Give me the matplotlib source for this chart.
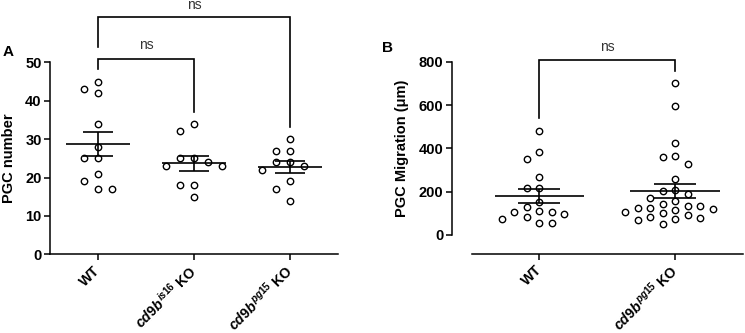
import numpy as np
import matplotlib.pyplot as plt

plt.rcParams.update({
    "font.family": "Liberation Sans",
    "font.weight": "bold",
    "font.size": 10.5,
    "axes.labelweight": "bold",
    "mathtext.fontset": "custom",
    "mathtext.it": "Liberation Sans:italic:bold",
    "mathtext.rm": "Liberation Sans:bold",
    "axes.linewidth": 1.1,
    "xtick.major.width": 1.1,
    "ytick.major.width": 1.1,
    "xtick.major.size": 4,
    "ytick.major.size": 4,
    "xtick.major.pad": 2,
    "ytick.major.pad": 2,
})

# ---------- data ----------
A_LABELS = ["WT", r"$\mathit{cd9b}^{\mathit{is16}}$ KO", r"$\mathit{cd9b}^{\mathit{pg15}}$ KO"]
A_WT = [45, 43, 42, 34, 28, 25, 25, 21, 19, 17, 17]
A_IS16 = [34, 32, 25, 25, 24, 23, 23, 18, 18, 15]
A_PG15 = [30, 27, 27, 24, 24, 23, 22, 19, 17, 14]

B_LABELS = ["WT", r"$\mathit{cd9b}^{\mathit{pg15}}$ KO"]
B_WT = [480, 384, 349, 266, 215, 215, 154, 128, 112, 108, 108, 96, 82, 74, 54, 54]
B_PG15 = [703, 594, 423, 365, 361, 326, 258, 208, 203, 189, 169, 157, 143, 134,
          134, 126, 123, 119, 115, 108, 103, 92, 82, 80, 72, 69, 51]


def swarm(ax, xc, vals, step_px, min_px):
    """greedy swarm: offsets in category units so circles don't collide"""
    tr = ax.transData
    px_per_x = tr.transform((1, 0))[0] - tr.transform((0, 0))[0]
    placed = []
    xs = []
    cands = [0]
    for i in range(1, 10):
        cands += [-i, i]
    for v in vals:
        yp = tr.transform((0, v))[1]
        for c in cands:
            xp = c * step_px
            if all(np.hypot(xp - a, yp - b) >= min_px for a, b in placed):
                placed.append((xp, yp))
                xs.append(xc + xp / px_per_x)
                break
    return xs


def plot_group(ax, xc, vals, step_px, min_px):
    xs = swarm(ax, xc, vals, step_px, min_px)
    ax.plot(xs, vals, "o", ms=4.6, mfc="white", mec="black", mew=1.0,
            ls="none", zorder=3, clip_on=False)
    m = np.mean(vals)
    sem = np.std(vals, ddof=1) / np.sqrt(len(vals))
    ax.hlines(m, xc - 0.33, xc + 0.33, color="black", lw=1.2, zorder=4)
    ax.hlines([m - sem, m + sem], xc - 0.155, xc + 0.155, color="black", lw=1.2, zorder=4)
    ax.vlines(xc, m - sem, m + sem, color="black", lw=1.2, zorder=4)


def bracket(ax, x0, x1, y, y0, y1, ty, text="ns"):
    ax.plot([x0, x0, x1, x1], [y0, y, y, y1], color="black", lw=1.2,
            clip_on=False, solid_joinstyle="miter")
    ax.text((x0 + x1) / 2, ty, text, ha="center", va="center",
            fontsize=10, fontweight="normal", color="#333")


fig = plt.figure(figsize=(7.45, 3.33), dpi=100)

# ---------- panel A ----------
axA = fig.add_axes([0.0671, 0.2363, 0.3866, 0.5766])
axA.spines[["top", "right"]].set_visible(False)
axA.set_xlim(-0.5, 2.5)
axA.set_ylim(0, 50)
for i, vals in enumerate([A_WT, A_IS16, A_PG15]):
    plot_group(axA, i, vals, 14, 9)
axA.set_yticks(np.arange(0, 51, 10))
axA.set_xticks(range(3))
axA.set_xticklabels(A_LABELS, rotation=45, ha="right", va="center",
                    rotation_mode="anchor", fontsize=10.2)
axA.tick_params(axis="x", pad=6)
axA.set_ylabel("PGC number")
axA.yaxis.set_label_coords(-0.118, 0.5)
bracket(axA, 0, 1, 50.8, 48.2, 37.1, 54.6)
bracket(axA, 0, 2, 61.7, 54.1, 33.2, 64.8)

# ---------- panel B ----------
axB = fig.add_axes([0.6332, 0.2943, 0.3638, 0.5204])
axB.spines[["top", "right"]].set_visible(False)
axB.spines["left"].set_position(("outward", 14.4))
axB.spines["bottom"].set_position(("outward", 13.7))
axB.set_xlim(-0.5, 1.5)
axB.set_ylim(0, 800)
for i, vals in enumerate([B_WT, B_PG15]):
    plot_group(axB, i, vals, 12.5, 8.5)
axB.set_yticks(np.arange(0, 801, 200))
axB.set_xticks(range(2))
axB.set_xticklabels(B_LABELS, rotation=45, ha="right", va="center",
                    rotation_mode="anchor", fontsize=10.2)
axB.tick_params(axis="x", pad=6)
axB.set_ylabel("PGC Migration (μm)")
axB.yaxis.set_label_coords(-0.231, 0.5)
bracket(axB, 0, 1, 808, 538, 757, 870)

fig.text(0.003, 0.844, "A", fontsize=11, fontweight="bold", va="center")
fig.text(0.513, 0.857, "B", fontsize=11, fontweight="bold", va="center")

fig.savefig("out.png", dpi=100)
